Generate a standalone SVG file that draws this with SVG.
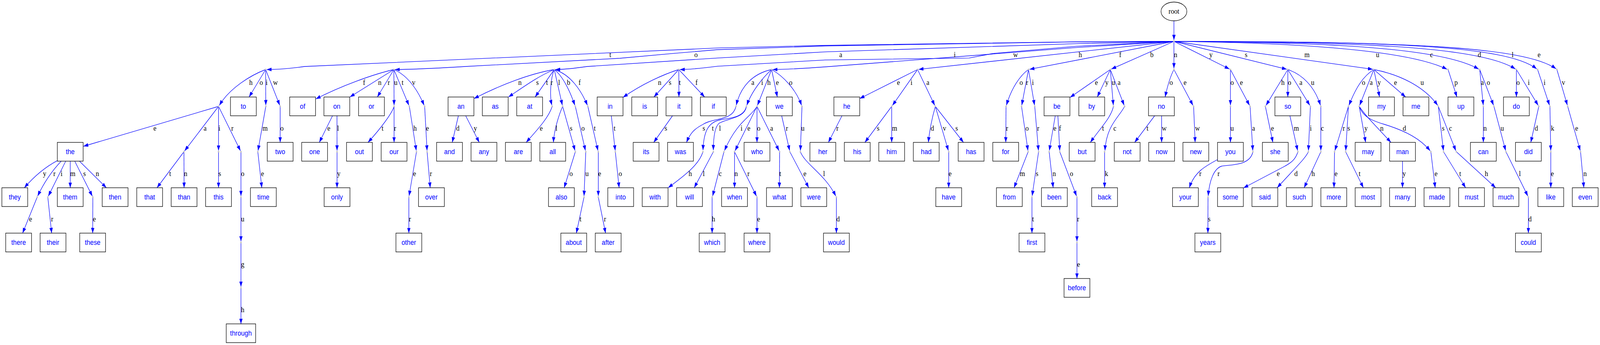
<svg xmlns="http://www.w3.org/2000/svg" width="4461" height="882" viewBox="0 0 4461 882" preserveAspectRatio="none">
<style>
svg{width:100vw;height:100vh}
.e{fill:none;stroke:#0000ff;stroke-width:1.33;marker-end:url(#ah)}
.b rect{fill:none;stroke:#000;stroke-width:1.33}
.b text{font-family:'Liberation Sans',Arial,sans-serif;font-size:17.8px;fill:#0000ff;text-anchor:middle}
.p circle{fill:#c0c0c0}
.l text{font-family:'Liberation Serif','Times New Roman',serif;font-size:18.67px;fill:#000;text-anchor:middle}
</style>
<defs>
<marker id="ah" markerUnits="userSpaceOnUse" markerWidth="14" markerHeight="10" viewBox="0 0 14 10" refX="13.5" refY="5" orient="auto"><path d="M0,0.3 L13.5,5 L0,9.7 z" fill="#0000ff"/></marker>
</defs>
<rect width="4461" height="882" fill="#fff"/>
<g id="edges">
<path class="e" d="M3273.1,53.3 L3273.1,102.5"/>
<path class="e" d="M3273.1,105.75 L3000,106.8 L2300,116 L2000,122.7 L849,170 Q790,177.6 743.6,177.75"/>
<path class="e" d="M3273.1,105.75 L3000,107.2 L2300,117.5 L2000,127 L1877,136.7 L1728,149 L1297,170 Q1160,177.6 1101.2,177.75"/>
<path class="e" d="M3273.1,105.75 L3000,111.7 L2300,132.7 L2000,148.3 L1637,170 Q1580,177.6 1548.4,177.75"/>
<path class="e" d="M3273.1,105.75 L3000,118.3 L2769,136.7 L2702,148.3 L2300,153.3 L2000,169.3 Q1930,177.6 1895.5,177.75"/>
<path class="e" d="M3273.1,105.75 L3000,121.7 L2300,171 Q2200,177.6 2154.3,177.75"/>
<path class="e" d="M3273.1,105.75 L2561.3,177.4"/>
<path class="e" d="M3273.1,105.75 L2870.6,177.2"/>
<path class="e" d="M3273.1,105.75 L3098.5,176.6"/>
<path class="e" d="M3273.1,105.75 L3273.1,174.75"/>
<path class="e" d="M3273.1,105.75 L3427.9,176.5"/>
<path class="e" d="M3273.1,105.75 L3587.7,177.1"/>
<path class="e" d="M3273.1,105.75 L3827.5,177.2"/>
<path class="e" d="M3273.1,105.75 C3650,110 3930,130 4034.5,177.1"/>
<path class="e" d="M3273.1,105.75 C3700,108 4020,122 4122.8,176.8"/>
<path class="e" d="M3273.1,105.75 C3800,107 4130,120 4225.2,176.6"/>
<path class="e" d="M3273.1,105.75 C3850,106 4200,115 4284.6,176.3"/>
<path class="e" d="M3273.1,105.75 C3900,106 4250,118 4338.6,176"/>
<path class="e" d="M740.6,177.75 C700,192 640,225 611.5,269.5"/>
<path class="e" d="M740.6,177.75 L694.5,248"/>
<path class="e" d="M740.6,177.75 L741.1,269"/>
<path class="e" d="M740.6,177.75 L780,269.2"/>
<path class="e" d="M609.3,272 L232.6,374"/>
<path class="e" d="M609.3,272 L514.7,385.7"/>
<path class="e" d="M609.3,272 L609.3,385"/>
<path class="e" d="M609.3,272 L670.4,385.4"/>
<path class="e" d="M741.1,272 L719.4,385.1"/>
<path class="e" d="M781.2,272 L781.2,364"/>
<path class="e" d="M160,410.6 Q110,435 67.9,480"/>
<path class="e" d="M170.6,412 C150,432 125,462 105,501.3"/>
<path class="e" d="M183.2,412 L134.7,501.4"/>
<path class="e" d="M195.8,412 L195.8,480"/>
<path class="e" d="M208.4,412 L257.4,501.4"/>
<path class="e" d="M221.5,412 L296.6,480"/>
<path class="e" d="M103.7,504 L63,596"/>
<path class="e" d="M133.3,504 L144,596"/>
<path class="e" d="M258.8,504 L258.5,596"/>
<path class="e" d="M512.8,388 L437.7,480"/>
<path class="e" d="M512.8,388 L513.3,480"/>
<path class="e" d="M609.3,388 L609.3,480"/>
<path class="e" d="M671.8,388 L671.8,501"/>
<path class="e" d="M671.8,504 L671.8,617"/>
<path class="e" d="M671.8,620 L671.8,733"/>
<path class="e" d="M671.8,736 L671.8,828"/>
<path class="e" d="M718.8,388 L730,480"/>
<path class="e" d="M1098.2,177.75 C1040,190 950,220 880.6,253"/>
<path class="e" d="M1098.2,177.75 L975.5,248"/>
<path class="e" d="M1098.2,177.75 L1052.1,248"/>
<path class="e" d="M1098.2,177.75 L1098.7,269"/>
<path class="e" d="M1098.2,177.75 L1140,269.3"/>
<path class="e" d="M1098.2,177.75 C1130,190 1160,220 1182.5,269.3"/>
<path class="e" d="M927.1,296 L890.3,364"/>
<path class="e" d="M939.5,296 L939.7,385"/>
<path class="e" d="M939.7,388 L939.7,480"/>
<path class="e" d="M1098.7,272 C1093,290 1060,330 1026,364"/>
<path class="e" d="M1098.7,272 L1098.7,364"/>
<path class="e" d="M1141.3,272 L1160.7,385"/>
<path class="e" d="M1161.2,388 L1140.5,501"/>
<path class="e" d="M1139.9,504 L1139.9,596"/>
<path class="e" d="M1184,272 L1190.7,385"/>
<path class="e" d="M1190.8,388 L1199.5,480"/>
<path class="e" d="M1545.4,177.75 C1480,188 1400,215 1321.6,252"/>
<path class="e" d="M1545.4,177.75 C1500,195 1460,222 1417.6,248"/>
<path class="e" d="M1545.4,177.75 L1492,248"/>
<path class="e" d="M1545.4,177.75 C1535,200 1532,245 1538.8,269"/>
<path class="e" d="M1545.4,177.75 L1567.9,269.1"/>
<path class="e" d="M1545.4,177.75 C1570,195 1590,235 1602.8,269.3"/>
<path class="e" d="M1545.4,177.75 C1590,190 1620,230 1637.8,269.3"/>
<path class="e" d="M1278,296 L1261,364"/>
<path class="e" d="M1298.4,296 L1336.2,364"/>
<path class="e" d="M1539.6,272 C1530,300 1500,330 1467,364"/>
<path class="e" d="M1568.7,272 C1560,290 1545,330 1543,364"/>
<path class="e" d="M1568.7,272 L1603.2,385.1"/>
<path class="e" d="M1604.1,272 L1632.3,385.1"/>
<path class="e" d="M1639,272 L1667.2,385.1"/>
<path class="e" d="M1604.1,388 L1573,480"/>
<path class="e" d="M1633.2,388 L1628.4,501"/>
<path class="e" d="M1668.1,388 L1668.1,501"/>
<path class="e" d="M1628.3,504 L1607,596"/>
<path class="e" d="M1668.1,504 L1688.4,596"/>
<path class="e" d="M1892.5,177.75 C1850,190 1790,215 1737,249"/>
<path class="e" d="M1892.5,177.75 L1823.2,248"/>
<path class="e" d="M1892.5,177.75 L1893,248"/>
<path class="e" d="M1892.5,177.75 L1964.7,248"/>
<path class="e" d="M1704.4,296 L1715.3,385"/>
<path class="e" d="M1715.6,388 L1726.2,480"/>
<path class="e" d="M1875,296 L1822.7,364"/>
<path class="e" d="M2151.3,177.75 C2100,188 2065,220 2052.8,269"/>
<path class="e" d="M2151.3,177.75 C2125,200 2095,235 2082.2,269.2"/>
<path class="e" d="M2151.3,177.75 L2111.9,269.2"/>
<path class="e" d="M2151.3,177.75 L2167.3,248"/>
<path class="e" d="M2151.3,177.75 C2185,195 2220,230 2234.8,269.2"/>
<path class="e" d="M2051.9,272 C2043,310 1990,300 1960,318 C1935,330 1925,340 1914,364"/>
<path class="e" d="M2081,272 C2075,300 2035,302 2010,306 C1975,312 1962,335 1960,384"/>
<path class="e" d="M2081,272 C2077,302 2030,302 2005,315 C1992,325 1989,355 1988.9,384"/>
<path class="e" d="M2110.6,272 C2095,298 2055,310 2020,385"/>
<path class="e" d="M2110.6,272 L2049.4,385.4"/>
<path class="e" d="M2110.6,272 L2110.6,364"/>
<path class="e" d="M2110.6,272 L2172.1,385.4"/>
<path class="e" d="M2179.4,296 L2201.6,385"/>
<path class="e" d="M2236,272 L2231.7,385"/>
<path class="e" d="M1959.8,388 C1950,420 1910,448 1862.9,480"/>
<path class="e" d="M1988.9,388 L1935.6,480"/>
<path class="e" d="M2018.5,388 L1986.8,501.3"/>
<path class="e" d="M2048,388 L2048,480"/>
<path class="e" d="M2048,388 L2109.2,501.4"/>
<path class="e" d="M2173.6,388 L2173.1,480"/>
<path class="e" d="M2202.2,388 L2254.9,480"/>
<path class="e" d="M2231.6,388 C2245,420 2300,445 2330.3,501.3"/>
<path class="e" d="M1985.5,504 L1985.5,596"/>
<path class="e" d="M2110.6,504 L2110.6,596"/>
<path class="e" d="M2332,504 L2332,596"/>
<path class="e" d="M2558.3,177.75 L2396.9,252"/>
<path class="e" d="M2558.3,177.75 L2488.2,269.6"/>
<path class="e" d="M2558.3,177.75 L2606.2,269.4"/>
<path class="e" d="M2347.5,296 L2309.7,364"/>
<path class="e" d="M2486.1,272 L2411.5,364"/>
<path class="e" d="M2486.1,272 L2486.1,364"/>
<path class="e" d="M2607.8,272 Q2593,320 2588.4,364"/>
<path class="e" d="M2607.8,272 L2644.2,385.1"/>
<path class="e" d="M2607.8,272 L2686.3,364"/>
<path class="e" d="M2645.1,388 L2645.1,480"/>
<path class="e" d="M2867.6,177.75 C2845,192 2820,225 2806,269.2"/>
<path class="e" d="M2867.6,177.75 L2848.8,269"/>
<path class="e" d="M2867.6,177.75 L2884.4,269.1"/>
<path class="e" d="M2805,272 L2804.2,364"/>
<path class="e" d="M2848.2,272 L2866.1,385.1"/>
<path class="e" d="M2885,272 L2895.4,385"/>
<path class="e" d="M2866.6,388 L2827.3,480"/>
<path class="e" d="M2895.7,388 L2877.7,501"/>
<path class="e" d="M2877.2,504 L2877.2,596"/>
<path class="e" d="M2942.2,296 L2925.6,385"/>
<path class="e" d="M2949.5,296 L2954.7,385"/>
<path class="e" d="M2925.2,388 L2936.4,480"/>
<path class="e" d="M2954.8,388 L3001.5,501.2"/>
<path class="e" d="M3002.7,504 L3002.7,617"/>
<path class="e" d="M3002.7,620 L3002.7,712"/>
<path class="e" d="M3095.7,177.75 L2983.5,249"/>
<path class="e" d="M3095.7,177.75 L3059.4,248"/>
<path class="e" d="M3095.7,177.75 L3104.1,269"/>
<path class="e" d="M3095.7,177.75 L3134.3,269.2"/>
<path class="e" d="M3104.4,272 C3098,300 3070,325 3040,364"/>
<path class="e" d="M3135.5,272 C3120,300 3085,320 3080.7,385"/>
<path class="e" d="M3079.7,388 L3079.7,480"/>
<path class="e" d="M3273.1,177.75 C3263,195 3255,220 3248.5,248"/>
<path class="e" d="M3273.1,177.75 L3326.2,269.4"/>
<path class="e" d="M3219.3,296 L3163.6,364"/>
<path class="e" d="M3238.7,296 L3238.7,364"/>
<path class="e" d="M3327.9,272 L3332.2,364"/>
<path class="e" d="M3430.6,177.75 L3430.6,269"/>
<path class="e" d="M3430.6,177.75 L3483.9,269.4"/>
<path class="e" d="M3430.6,272 L3430.6,364"/>
<path class="e" d="M3485.4,272 L3493,385"/>
<path class="e" d="M3394.6,408 C3360,425 3330,440 3316,480"/>
<path class="e" d="M3493.2,388 C3485,425 3430,420 3405,425 C3385,432 3372,460 3368.6,501"/>
<path class="e" d="M3368.1,504 L3367.8,596"/>
<path class="e" d="M3590.6,177.75 L3529.7,269.5"/>
<path class="e" d="M3590.6,177.75 L3590.6,248"/>
<path class="e" d="M3590.6,177.75 L3652,269.4"/>
<path class="e" d="M3590.6,177.75 C3630,190 3665,220 3681.6,269.2"/>
<path class="e" d="M3528,272 L3549,364"/>
<path class="e" d="M3596.4,296 L3618,385.1"/>
<path class="e" d="M3653.6,272 L3648,385"/>
<path class="e" d="M3682.7,272 L3682.7,385"/>
<path class="e" d="M3618.7,388 C3612,408 3600,416 3580,426 L3467,480.5"/>
<path class="e" d="M3647.8,388 C3640,405 3610,430 3561,480"/>
<path class="e" d="M3682.7,388 L3636.1,480"/>
<path class="e" d="M3830.4,177.75 C3800,195 3780,225 3761,269.3"/>
<path class="e" d="M3830.4,177.75 L3790.9,269.2"/>
<path class="e" d="M3830.4,177.75 L3846.4,248"/>
<path class="e" d="M3830.4,177.75 L3919.1,248"/>
<path class="e" d="M3830.4,177.75 C3900,190 3970,220 4008.5,269.5"/>
<path class="e" d="M3759.6,272 L3721.8,385.1"/>
<path class="e" d="M3759.6,272 L3752.1,385"/>
<path class="e" d="M3789.7,272 L3807.6,364"/>
<path class="e" d="M3789.7,272 C3810,300 3845,330 3878,364"/>
<path class="e" d="M3789.7,272 C3800,300 3830,310 3860,318 C3920,335 3960,355 3987.5,385.5"/>
<path class="e" d="M4010.2,272 L4024.4,385"/>
<path class="e" d="M4010.2,272 L4059.1,385.4"/>
<path class="e" d="M3720.9,388 L3719.4,480"/>
<path class="e" d="M3751.9,388 L3801.3,480"/>
<path class="e" d="M3910.4,412 L3910.4,480"/>
<path class="e" d="M3989.4,388 L4001.5,480"/>
<path class="e" d="M4024.8,388 L4086.3,480"/>
<path class="e" d="M4060.6,388 L4170.2,480"/>
<path class="e" d="M4037.4,177.75 L4062.1,248"/>
<path class="e" d="M4125.6,177.75 L4135.5,269"/>
<path class="e" d="M4125.6,177.75 L4164.2,269.2"/>
<path class="e" d="M4135.8,272 L4135.8,364"/>
<path class="e" d="M4165.3,272 L4197.9,385.1"/>
<path class="e" d="M4198.8,388 L4259.9,501.4"/>
<path class="e" d="M4261.3,504 L4261.3,596"/>
<path class="e" d="M4227.9,177.75 L4227.9,248"/>
<path class="e" d="M4227.9,177.75 L4288.7,269.5"/>
<path class="e" d="M4290.4,272 L4268.1,364"/>
<path class="e" d="M4287,177.75 L4320.2,269.2"/>
<path class="e" d="M4321.4,272 L4323.7,385"/>
<path class="e" d="M4323.8,388 L4323.8,480"/>
<path class="e" d="M4340.8,177.75 L4370,269.1"/>
<path class="e" d="M4370.9,272 L4405.9,385.1"/>
<path class="e" d="M4406.7,388 L4416,480"/>
<g class="l">
<text x="1701.5" y="146.25">t</text><text x="1940.5" y="146.25">o</text><text x="2344.1" y="146.25">a</text><text x="2662" y="146.25">i</text><text x="2831.7" y="146.25">w</text><text x="3012" y="146.25">h</text><text x="3123.4" y="146.25">f</text><text x="3211.5" y="146.25">b</text><text x="3277.6" y="146.25">n</text><text x="3376.2" y="146.25">y</text><text x="3474.4" y="146.25">s</text><text x="3644.2" y="146.25">m</text><text x="3841" y="146.25">u</text><text x="3991.2" y="146.25">c</text><text x="4124.8" y="146.25">d</text><text x="4217.4" y="146.25">l</text><text x="4291.2" y="146.25">e</text>
<text x="699.4" y="217.5">h</text><text x="728.5" y="217.5">o</text><text x="743.5" y="217.5">i</text><text x="768.1" y="217.5">w</text>
<text x="1015.3" y="217.5">f</text><text x="1058.9" y="217.5">n</text><text x="1084.1" y="217.5">r</text><text x="1103.5" y="217.5">u</text><text x="1122.4" y="217.5">t</text><text x="1153.4" y="217.5">v</text>
<text x="1449.6" y="217.5">n</text><text x="1498.4" y="217.5">s</text><text x="1525.1" y="217.5">t</text><text x="1538.2" y="217.5">r</text><text x="1559" y="217.5">l</text><text x="1585.2" y="217.5">b</text><text x="1616.2" y="217.5">f</text>
<text x="1839.2" y="217.5">n</text><text x="1868.2" y="217.5">s</text><text x="1895.4" y="217.5">t</text><text x="1941.9" y="217.5">f</text>
<text x="2099" y="217.5">a</text><text x="2125.1" y="217.5">i</text><text x="2144" y="217.5">h</text><text x="2167.3" y="217.5">e</text><text x="2204.6" y="217.5">o</text>
<text x="2505" y="217.5">e</text><text x="2541.4" y="217.5">i</text><text x="2586.9" y="217.5">a</text>
<text x="2847.2" y="217.5">o</text><text x="2863.7" y="217.5">r</text><text x="2879.7" y="217.5">i</text>
<text x="3056.9" y="217.5">e</text><text x="3086" y="217.5">y</text><text x="3104.4" y="217.5">u</text><text x="3120" y="217.5">a</text>
<text x="3265.4" y="217.5">o</text><text x="3304.1" y="217.5">e</text>
<text x="3435.5" y="217.5">o</text><text x="3461.2" y="217.5">e</text>
<text x="3577" y="217.5">h</text><text x="3595.4" y="217.5">o</text><text x="3627" y="217.5">a</text><text x="3659.9" y="217.5">u</text>
<text x="3801.8" y="217.5">o</text><text x="3823.1" y="217.5">a</text><text x="3845.4" y="217.5">y</text><text x="3891" y="217.5">e</text><text x="3965.2" y="217.5">u</text>
<text x="4059.7" y="217.5">p</text><text x="4132.9" y="217.5">a</text><text x="4149.8" y="217.5">o</text><text x="4232.7" y="217.5">o</text><text x="4262.3" y="217.5">i</text><text x="4306.4" y="217.5">i</text><text x="4359.2" y="217.5">v</text>
<text x="431.9" y="334.5">e</text><text x="571.9" y="334.5">a</text><text x="611.7" y="334.5">i</text><text x="648" y="334.5">r</text><text x="739.2" y="334.5">m</text><text x="786" y="334.5">o</text>
<text x="916.9" y="334.5">e</text><text x="942.6" y="334.5">l</text><text x="1066.7" y="334.5">t</text><text x="1101.6" y="334.5">r</text><text x="1157.3" y="334.5">h</text><text x="1191.7" y="334.5">e</text>
<text x="1276.6" y="334.5">d</text><text x="1325.5" y="334.5">y</text><text x="1509.1" y="334.5">e</text><text x="1551.2" y="334.5">l</text><text x="1592.4" y="334.5">s</text><text x="1625.4" y="334.5">o</text><text x="1658.4" y="334.5">t</text>
<text x="1713.6" y="334.5">t</text><text x="1856.6" y="334.5">s</text>
<text x="1962.3" y="334.5">s</text><text x="1987.5" y="334.5">t</text><text x="2007.4" y="334.5">l</text><text x="2067.5" y="334.5">i</text><text x="2087.8" y="334.5">e</text><text x="2115.4" y="334.5">o</text><text x="2151.3" y="334.5">a</text><text x="2194" y="334.5">r</text><text x="2238.5" y="334.5">u</text>
<text x="2334.9" y="334.5">r</text><text x="2448.3" y="334.5">s</text><text x="2494.3" y="334.5">m</text><text x="2599.5" y="334.5">d</text><text x="2633.4" y="334.5">v</text><text x="2667.4" y="334.5">s</text>
<text x="2807.9" y="334.5">r</text><text x="2863.7" y="334.5">o</text><text x="2894.7" y="334.5">r</text><text x="2941.2" y="334.5">e</text><text x="2955.3" y="334.5">f</text>
<text x="3075.4" y="334.5">t</text><text x="3108.3" y="334.5">c</text><text x="3199.4" y="334.5">t</text><text x="3246" y="334.5">w</text><text x="3339" y="334.5">w</text>
<text x="3435.5" y="334.5">u</text><text x="3495.1" y="334.5">a</text><text x="3547.9" y="334.5">e</text><text x="3614.3" y="334.5">m</text><text x="3654.6" y="334.5">i</text><text x="3687" y="334.5">c</text>
<text x="3746.6" y="334.5">r</text><text x="3760.6" y="334.5">s</text><text x="3808.6" y="334.5">y</text><text x="3852.7" y="334.5">n</text><text x="3915.7" y="334.5">d</text><text x="4023.8" y="334.5">s</text><text x="4044.2" y="334.5">c</text>
<text x="4140.6" y="334.5">n</text><text x="4188.6" y="334.5">u</text><text x="4283.6" y="334.5">d</text><text x="4328.7" y="334.5">k</text><text x="4396" y="334.5">e</text>
<text x="124.6" y="450.5">y</text><text x="151.7" y="450.5">r</text><text x="171.6" y="450.5">i</text><text x="203.1" y="450.5">m</text><text x="235.6" y="450.5">s</text><text x="271.4" y="450.5">n</text>
<text x="474.5" y="450.5">t</text><text x="517.7" y="450.5">n</text><text x="612.7" y="450.5">s</text><text x="676.6" y="450.5">o</text><text x="731.9" y="450.5">e</text>
<text x="944.5" y="450.5">y</text><text x="1155.9" y="450.5">e</text><text x="1201.4" y="450.5">r</text>
<text x="1592.4" y="450.5">o</text><text x="1636.6" y="450.5">u</text><text x="1671.9" y="450.5">e</text><text x="1729.6" y="450.5">o</text>
<text x="1924.5" y="450.5">h</text><text x="1962.3" y="450.5">l</text><text x="2008.3" y="450.5">c</text><text x="2052.4" y="450.5">n</text><text x="2086.8" y="450.5">r</text><text x="2175.5" y="450.5">t</text><text x="2244.2" y="450.5">e</text><text x="2297.6" y="450.5">l</text>
<text x="2649" y="450.5">e</text><text x="2850.6" y="450.5">m</text><text x="2891.3" y="450.5">s</text><text x="2939.3" y="450.5">n</text><text x="2987.6" y="450.5">o</text><text x="3085" y="450.5">k</text>
<text x="3346.8" y="450.5">r</text><text x="3397.7" y="450.5">r</text><text x="3563.9" y="450.5">e</text><text x="3613.4" y="450.5">d</text><text x="3661.3" y="450.5">h</text>
<text x="3725.2" y="450.5">e</text><text x="3790.7" y="450.5">t</text><text x="3915.2" y="450.5">y</text><text x="4003.9" y="450.5">e</text><text x="4071.3" y="450.5">t</text><text x="4144.5" y="450.5">h</text>
<text x="4237.6" y="450.5">l</text><text x="4328.2" y="450.5">e</text><text x="4419.3" y="450.5">n</text>
<text x="85.3" y="566.5">e</text><text x="145.4" y="566.5">r</text><text x="263.2" y="566.5">e</text><text x="676.6" y="566.5">u</text><text x="1142.8" y="566.5">r</text><text x="1618.6" y="566.5">t</text><text x="1687" y="566.5">r</text>
<text x="1989.4" y="566.5">h</text><text x="2115" y="566.5">e</text><text x="2336.8" y="566.5">d</text><text x="2880.2" y="566.5">t</text><text x="3006" y="566.5">r</text><text x="3371.5" y="566.5">s</text><text x="4265.7" y="566.5">d</text>
<text x="676.6" y="682.5">g</text><text x="3007" y="682.5">e</text>
<text x="676.6" y="798.5">h</text>
</g>
</g>
<g id="n-root"><ellipse cx="3273.1" cy="29.25" rx="36" ry="24" fill="none" stroke="#000" stroke-width="1.33"/><text x="3273.1" y="35" font-family="'Liberation Serif','Times New Roman',serif" font-size="18.67" text-anchor="middle">root</text></g>
<g class="p">
<g id="n-hub"><circle cx="3273.1" cy="105.75" r="2.2"/></g>
<g id="n-t"><circle cx="740.6" cy="177.75" r="2.2"/></g>
<g id="n-o"><circle cx="1098.2" cy="177.75" r="2.2"/></g>
<g id="n-a"><circle cx="1545.4" cy="177.75" r="2.2"/></g>
<g id="n-i"><circle cx="1892.5" cy="177.75" r="2.2"/></g>
<g id="n-w"><circle cx="2151.3" cy="177.75" r="2.2"/></g>
<g id="n-h"><circle cx="2558.3" cy="177.75" r="2.2"/></g>
<g id="n-f"><circle cx="2867.6" cy="177.75" r="2.2"/></g>
<g id="n-b"><circle cx="3095.7" cy="177.75" r="2.2"/></g>
<g id="n-n"><circle cx="3273.1" cy="177.75" r="2.2"/></g>
<g id="n-y"><circle cx="3430.6" cy="177.75" r="2.2"/></g>
<g id="n-s"><circle cx="3590.6" cy="177.75" r="2.2"/></g>
<g id="n-m"><circle cx="3830.4" cy="177.75" r="2.2"/></g>
<g id="n-u"><circle cx="4037.4" cy="177.75" r="2.2"/></g>
<g id="n-c"><circle cx="4125.6" cy="177.75" r="2.2"/></g>
<g id="n-d"><circle cx="4227.9" cy="177.75" r="2.2"/></g>
<g id="n-l"><circle cx="4287" cy="177.75" r="2.2"/></g>
<g id="n-e"><circle cx="4340.8" cy="177.75" r="2.2"/></g>
<g id="n-th"><circle cx="609.3" cy="272" r="2.2"/></g>
<g id="n-ti"><circle cx="741.1" cy="272" r="2.2"/></g>
<g id="n-tw"><circle cx="781.2" cy="272" r="2.2"/></g>
<g id="n-ou"><circle cx="1098.7" cy="272" r="2.2"/></g>
<g id="n-ot"><circle cx="1141.3" cy="272" r="2.2"/></g>
<g id="n-ov"><circle cx="1184" cy="272" r="2.2"/></g>
<g id="n-ar"><circle cx="1539.6" cy="272" r="2.2"/></g>
<g id="n-al"><circle cx="1568.7" cy="272" r="2.2"/></g>
<g id="n-ab"><circle cx="1604.1" cy="272" r="2.2"/></g>
<g id="n-af"><circle cx="1639" cy="272" r="2.2"/></g>
<g id="n-wa"><circle cx="2051.9" cy="272" r="2.2"/></g>
<g id="n-wi"><circle cx="2081" cy="272" r="2.2"/></g>
<g id="n-wh"><circle cx="2110.6" cy="272" r="2.2"/></g>
<g id="n-wo"><circle cx="2236" cy="272" r="2.2"/></g>
<g id="n-hi"><circle cx="2486.1" cy="272" r="2.2"/></g>
<g id="n-ha"><circle cx="2607.8" cy="272" r="2.2"/></g>
<g id="n-fo"><circle cx="2805" cy="272" r="2.2"/></g>
<g id="n-fr"><circle cx="2848.2" cy="272" r="2.2"/></g>
<g id="n-fi"><circle cx="2885" cy="272" r="2.2"/></g>
<g id="n-bu"><circle cx="3104.4" cy="272" r="2.2"/></g>
<g id="n-ba"><circle cx="3135.5" cy="272" r="2.2"/></g>
<g id="n-ne"><circle cx="3327.9" cy="272" r="2.2"/></g>
<g id="n-yo"><circle cx="3430.6" cy="272" r="2.2"/></g>
<g id="n-ye"><circle cx="3485.4" cy="272" r="2.2"/></g>
<g id="n-sh"><circle cx="3528" cy="272" r="2.2"/></g>
<g id="n-sa"><circle cx="3653.6" cy="272" r="2.2"/></g>
<g id="n-su"><circle cx="3682.7" cy="272" r="2.2"/></g>
<g id="n-mo"><circle cx="3759.6" cy="272" r="2.2"/></g>
<g id="n-ma"><circle cx="3789.7" cy="272" r="2.2"/></g>
<g id="n-mu"><circle cx="4010.2" cy="272" r="2.2"/></g>
<g id="n-ca"><circle cx="4135.8" cy="272" r="2.2"/></g>
<g id="n-co"><circle cx="4165.3" cy="272" r="2.2"/></g>
<g id="n-di"><circle cx="4290.4" cy="272" r="2.2"/></g>
<g id="n-li"><circle cx="4321.4" cy="272" r="2.2"/></g>
<g id="n-ev"><circle cx="4370.9" cy="272" r="2.2"/></g>
<g id="n-tha"><circle cx="512.8" cy="388" r="2.2"/></g>
<g id="n-thi"><circle cx="609.3" cy="388" r="2.2"/></g>
<g id="n-thr"><circle cx="671.8" cy="388" r="2.2"/></g>
<g id="n-tim"><circle cx="718.8" cy="388" r="2.2"/></g>
<g id="n-onl"><circle cx="939.7" cy="388" r="2.2"/></g>
<g id="n-oth"><circle cx="1161.2" cy="388" r="2.2"/></g>
<g id="n-ove"><circle cx="1190.8" cy="388" r="2.2"/></g>
<g id="n-als"><circle cx="1604.1" cy="388" r="2.2"/></g>
<g id="n-abo"><circle cx="1633.2" cy="388" r="2.2"/></g>
<g id="n-aft"><circle cx="1668.1" cy="388" r="2.2"/></g>
<g id="n-int"><circle cx="1715.6" cy="388" r="2.2"/></g>
<g id="n-wit"><circle cx="1959.8" cy="388" r="2.2"/></g>
<g id="n-wil"><circle cx="1988.9" cy="388" r="2.2"/></g>
<g id="n-whi"><circle cx="2018.5" cy="388" r="2.2"/></g>
<g id="n-whe"><circle cx="2048" cy="388" r="2.2"/></g>
<g id="n-wha"><circle cx="2173.6" cy="388" r="2.2"/></g>
<g id="n-wer"><circle cx="2202.2" cy="388" r="2.2"/></g>
<g id="n-wou"><circle cx="2231.6" cy="388" r="2.2"/></g>
<g id="n-hav"><circle cx="2645.1" cy="388" r="2.2"/></g>
<g id="n-fro"><circle cx="2866.6" cy="388" r="2.2"/></g>
<g id="n-fir"><circle cx="2895.7" cy="388" r="2.2"/></g>
<g id="n-bee"><circle cx="2925.2" cy="388" r="2.2"/></g>
<g id="n-bef"><circle cx="2954.8" cy="388" r="2.2"/></g>
<g id="n-bac"><circle cx="3079.7" cy="388" r="2.2"/></g>
<g id="n-yea"><circle cx="3493.2" cy="388" r="2.2"/></g>
<g id="n-som"><circle cx="3618.7" cy="388" r="2.2"/></g>
<g id="n-sai"><circle cx="3647.8" cy="388" r="2.2"/></g>
<g id="n-suc"><circle cx="3682.7" cy="388" r="2.2"/></g>
<g id="n-mor"><circle cx="3720.9" cy="388" r="2.2"/></g>
<g id="n-mos"><circle cx="3751.9" cy="388" r="2.2"/></g>
<g id="n-mad"><circle cx="3989.4" cy="388" r="2.2"/></g>
<g id="n-mus"><circle cx="4024.8" cy="388" r="2.2"/></g>
<g id="n-muc"><circle cx="4060.6" cy="388" r="2.2"/></g>
<g id="n-cou"><circle cx="4198.8" cy="388" r="2.2"/></g>
<g id="n-lik"><circle cx="4323.8" cy="388" r="2.2"/></g>
<g id="n-eve"><circle cx="4406.7" cy="388" r="2.2"/></g>
<g id="n-ther"><circle cx="103.7" cy="504" r="2.2"/></g>
<g id="n-thei"><circle cx="133.3" cy="504" r="2.2"/></g>
<g id="n-thes"><circle cx="258.8" cy="504" r="2.2"/></g>
<g id="n-thro"><circle cx="671.8" cy="504" r="2.2"/></g>
<g id="n-othe"><circle cx="1139.9" cy="504" r="2.2"/></g>
<g id="n-abou"><circle cx="1628.3" cy="504" r="2.2"/></g>
<g id="n-afte"><circle cx="1668.1" cy="504" r="2.2"/></g>
<g id="n-whic"><circle cx="1985.5" cy="504" r="2.2"/></g>
<g id="n-wher"><circle cx="2110.6" cy="504" r="2.2"/></g>
<g id="n-woul"><circle cx="2332" cy="504" r="2.2"/></g>
<g id="n-firs"><circle cx="2877.2" cy="504" r="2.2"/></g>
<g id="n-befo"><circle cx="3002.7" cy="504" r="2.2"/></g>
<g id="n-year"><circle cx="3368.1" cy="504" r="2.2"/></g>
<g id="n-coul"><circle cx="4261.3" cy="504" r="2.2"/></g>
<g id="n-throu"><circle cx="671.8" cy="620" r="2.2"/></g>
<g id="n-befor"><circle cx="3002.7" cy="620" r="2.2"/></g>
<g id="n-throug"><circle cx="671.8" cy="736" r="2.2"/></g>
</g>
<g class="b">
<g id="n-to"><rect x="642.6" y="248" width="72" height="48"/><text x="678.6" y="278">to</text></g>
<g id="n-of"><rect x="807.7" y="248" width="72" height="48"/><text x="843.7" y="278">of</text></g>
<g id="n-on"><rect x="903.2" y="248" width="72" height="48"/><text x="939.2" y="278">on</text></g>
<g id="n-or"><rect x="999.7" y="248" width="72" height="48"/><text x="1035.7" y="278">or</text></g>
<g id="n-an"><rect x="1249.3" y="248" width="72" height="48"/><text x="1285.3" y="278">an</text></g>
<g id="n-as"><rect x="1344.8" y="248" width="72" height="48"/><text x="1380.8" y="278">as</text></g>
<g id="n-at"><rect x="1440.7" y="248" width="72" height="48"/><text x="1476.7" y="278">at</text></g>
<g id="n-in"><rect x="1665" y="248" width="72" height="48"/><text x="1701" y="278">in</text></g>
<g id="n-is"><rect x="1761.5" y="248" width="72" height="48"/><text x="1797.5" y="278">is</text></g>
<g id="n-it"><rect x="1857" y="248" width="72" height="48"/><text x="1893" y="278">it</text></g>
<g id="n-if"><rect x="1952.9" y="248" width="72" height="48"/><text x="1988.9" y="278">if</text></g>
<g id="n-we"><rect x="2137.1" y="248" width="72" height="48"/><text x="2173.1" y="278">we</text></g>
<g id="n-he"><rect x="2325" y="248" width="72" height="48"/><text x="2361" y="278">he</text></g>
<g id="n-be"><rect x="2911" y="248" width="72" height="48"/><text x="2947" y="278">be</text></g>
<g id="n-by"><rect x="3007.9" y="248" width="72" height="48"/><text x="3043.9" y="278">by</text></g>
<g id="n-no"><rect x="3202.2" y="248" width="72" height="48"/><text x="3238.2" y="278">no</text></g>
<g id="n-so"><rect x="3554.6" y="248" width="72" height="48"/><text x="3590.6" y="278">so</text></g>
<g id="n-my"><rect x="3815.7" y="248" width="72" height="48"/><text x="3851.7" y="278">my</text></g>
<g id="n-me"><rect x="3911.7" y="248" width="72" height="48"/><text x="3947.7" y="278">me</text></g>
<g id="n-up"><rect x="4037.2" y="248" width="72" height="48"/><text x="4073.2" y="278">up</text></g>
<g id="n-do"><rect x="4191.9" y="248" width="72" height="48"/><text x="4227.9" y="278">do</text></g>
<g id="n-the"><rect x="159.8" y="364" width="72" height="48"/><text x="195.8" y="394">the</text></g>
<g id="n-two"><rect x="745.2" y="364" width="72" height="48"/><text x="781.2" y="394">two</text></g>
<g id="n-one"><rect x="841.2" y="364" width="72" height="48"/><text x="877.2" y="394">one</text></g>
<g id="n-out"><rect x="966.2" y="364" width="72" height="48"/><text x="1002.2" y="394">out</text></g>
<g id="n-our"><rect x="1062.7" y="364" width="72" height="48"/><text x="1098.7" y="394">our</text></g>
<g id="n-and"><rect x="1217.3" y="364" width="72" height="48"/><text x="1253.3" y="394">and</text></g>
<g id="n-any"><rect x="1313.3" y="364" width="72" height="48"/><text x="1349.3" y="394">any</text></g>
<g id="n-are"><rect x="1409.2" y="364" width="72" height="48"/><text x="1445.2" y="394">are</text></g>
<g id="n-all"><rect x="1505.1" y="364" width="72" height="48"/><text x="1541.1" y="394">all</text></g>
<g id="n-its"><rect x="1765.4" y="364" width="72" height="48"/><text x="1801.4" y="394">its</text></g>
<g id="n-was"><rect x="1861.3" y="364" width="72" height="48"/><text x="1897.3" y="394">was</text></g>
<g id="n-who"><rect x="2074.6" y="364" width="72" height="48"/><text x="2110.6" y="394">who</text></g>
<g id="n-her"><rect x="2258.2" y="364" width="72" height="48"/><text x="2294.2" y="394">her</text></g>
<g id="n-his"><rect x="2354.1" y="364" width="72" height="48"/><text x="2390.1" y="394">his</text></g>
<g id="n-him"><rect x="2450.1" y="364" width="72" height="48"/><text x="2486.1" y="394">him</text></g>
<g id="n-had"><rect x="2546.5" y="364" width="72" height="48"/><text x="2582.5" y="394">had</text></g>
<g id="n-has"><rect x="2671.6" y="364" width="72" height="48"/><text x="2707.6" y="394">has</text></g>
<g id="n-for"><rect x="2768" y="364" width="72" height="48"/><text x="2804" y="394">for</text></g>
<g id="n-but"><rect x="2981.2" y="364" width="72" height="48"/><text x="3017.2" y="394">but</text></g>
<g id="n-not"><rect x="3106.7" y="364" width="72" height="48"/><text x="3142.7" y="394">not</text></g>
<g id="n-now"><rect x="3202.7" y="364" width="72" height="48"/><text x="3238.7" y="394">now</text></g>
<g id="n-new"><rect x="3298.2" y="364" width="72" height="48"/><text x="3334.2" y="394">new</text></g>
<g id="n-you"><rect x="3394.6" y="364" width="72" height="48"/><text x="3430.6" y="394">you</text></g>
<g id="n-she"><rect x="3519.7" y="364" width="72" height="48"/><text x="3555.7" y="394">she</text></g>
<g id="n-may"><rect x="3778.4" y="364" width="72" height="48"/><text x="3814.4" y="394">may</text></g>
<g id="n-man"><rect x="3874.4" y="364" width="72" height="48"/><text x="3910.4" y="394">man</text></g>
<g id="n-can"><rect x="4099.8" y="364" width="72" height="48"/><text x="4135.8" y="394">can</text></g>
<g id="n-did"><rect x="4225.3" y="364" width="72" height="48"/><text x="4261.3" y="394">did</text></g>
<g id="n-they"><rect x="5.2" y="480" width="72" height="48"/><text x="41.2" y="510">they</text></g>
<g id="n-them"><rect x="159.8" y="480" width="72" height="48"/><text x="195.8" y="510">them</text></g>
<g id="n-then"><rect x="284.9" y="480" width="72" height="48"/><text x="320.9" y="510">then</text></g>
<g id="n-that"><rect x="381.3" y="480" width="72" height="48"/><text x="417.3" y="510">that</text></g>
<g id="n-than"><rect x="477.3" y="480" width="72" height="48"/><text x="513.3" y="510">than</text></g>
<g id="n-this"><rect x="573.3" y="480" width="72" height="48"/><text x="609.3" y="510">this</text></g>
<g id="n-time"><rect x="698.3" y="480" width="72" height="48"/><text x="734.3" y="510">time</text></g>
<g id="n-only"><rect x="903.7" y="480" width="72" height="48"/><text x="939.7" y="510">only</text></g>
<g id="n-over"><rect x="1166.9" y="480" width="72" height="48"/><text x="1202.9" y="510">over</text></g>
<g id="n-also"><rect x="1529.3" y="480" width="72" height="48"/><text x="1565.3" y="510">also</text></g>
<g id="n-into"><rect x="1694.6" y="480" width="72" height="48"/><text x="1730.6" y="510">into</text></g>
<g id="n-with"><rect x="1790.6" y="480" width="72" height="48"/><text x="1826.6" y="510">with</text></g>
<g id="n-will"><rect x="1886.5" y="480" width="72" height="48"/><text x="1922.5" y="510">will</text></g>
<g id="n-when"><rect x="2012" y="480" width="72" height="48"/><text x="2048" y="510">when</text></g>
<g id="n-what"><rect x="2137.1" y="480" width="72" height="48"/><text x="2173.1" y="510">what</text></g>
<g id="n-were"><rect x="2233" y="480" width="72" height="48"/><text x="2269" y="510">were</text></g>
<g id="n-have"><rect x="2609.1" y="480" width="72" height="48"/><text x="2645.1" y="510">have</text></g>
<g id="n-from"><rect x="2778.2" y="480" width="72" height="48"/><text x="2814.2" y="510">from</text></g>
<g id="n-been"><rect x="2903.8" y="480" width="72" height="48"/><text x="2939.8" y="510">been</text></g>
<g id="n-back"><rect x="3043.7" y="480" width="72" height="48"/><text x="3079.7" y="510">back</text></g>
<g id="n-your"><rect x="3269.1" y="480" width="72" height="48"/><text x="3305.1" y="510">your</text></g>
<g id="n-some"><rect x="3394.6" y="480" width="72" height="48"/><text x="3430.6" y="510">some</text></g>
<g id="n-said"><rect x="3490.6" y="480" width="72" height="48"/><text x="3526.6" y="510">said</text></g>
<g id="n-such"><rect x="3586.6" y="480" width="72" height="48"/><text x="3622.6" y="510">such</text></g>
<g id="n-more"><rect x="3682.8" y="480" width="72" height="48"/><text x="3718.8" y="510">more</text></g>
<g id="n-most"><rect x="3778.4" y="480" width="72" height="48"/><text x="3814.4" y="510">most</text></g>
<g id="n-many"><rect x="3874.4" y="480" width="72" height="48"/><text x="3910.4" y="510">many</text></g>
<g id="n-made"><rect x="3970.4" y="480" width="72" height="48"/><text x="4006.4" y="510">made</text></g>
<g id="n-must"><rect x="4066.8" y="480" width="72" height="48"/><text x="4102.8" y="510">must</text></g>
<g id="n-much"><rect x="4162.8" y="480" width="72" height="48"/><text x="4198.8" y="510">much</text></g>
<g id="n-like"><rect x="4287.8" y="480" width="72" height="48"/><text x="4323.8" y="510">like</text></g>
<g id="n-even"><rect x="4383.8" y="480" width="72" height="48"/><text x="4419.8" y="510">even</text></g>
<g id="n-there"><rect x="15.9" y="596" width="72" height="48"/><text x="51.9" y="626">there</text></g>
<g id="n-their"><rect x="111.8" y="596" width="72" height="48"/><text x="147.8" y="626">their</text></g>
<g id="n-these"><rect x="222.3" y="596" width="72" height="48"/><text x="258.3" y="626">these</text></g>
<g id="n-other"><rect x="1103.9" y="596" width="72" height="48"/><text x="1139.9" y="626">other</text></g>
<g id="n-about"><rect x="1563.7" y="596" width="72" height="48"/><text x="1599.7" y="626">about</text></g>
<g id="n-after"><rect x="1659.7" y="596" width="72" height="48"/><text x="1695.7" y="626">after</text></g>
<g id="n-which"><rect x="1949.5" y="596" width="72" height="48"/><text x="1985.5" y="626">which</text></g>
<g id="n-where"><rect x="2074.6" y="596" width="72" height="48"/><text x="2110.6" y="626">where</text></g>
<g id="n-would"><rect x="2296" y="596" width="72" height="48"/><text x="2332" y="626">would</text></g>
<g id="n-first"><rect x="2841.2" y="596" width="72" height="48"/><text x="2877.2" y="626">first</text></g>
<g id="n-years"><rect x="3331.6" y="596" width="72" height="48"/><text x="3367.6" y="626">years</text></g>
<g id="n-could"><rect x="4225.3" y="596" width="72" height="48"/><text x="4261.3" y="626">could</text></g>
<g id="n-before"><rect x="2966.7" y="712" width="72" height="48"/><text x="3002.7" y="742">before</text></g>
<g id="n-through"><rect x="630.8" y="828" width="82" height="48"/><text x="671.8" y="858">through</text></g>
</g>
</svg>
